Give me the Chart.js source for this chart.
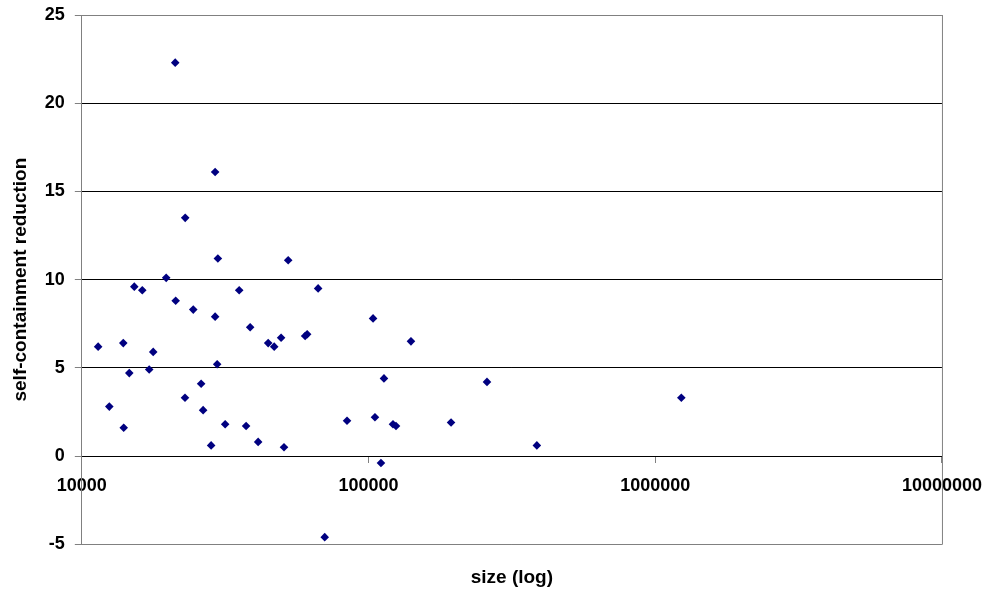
<!DOCTYPE html>
<html>
<head>
<meta charset="utf-8">
<script src="https://cdn.jsdelivr.net/npm/chart.js@4/dist/chart.umd.min.js"></script>
<style>
  html, body { margin: 0; padding: 0; background: #fff; }
</style>
</head>
<body>
<canvas id="myScatter" width="987" height="590"></canvas>
<script>
const sizes = [11400, 12470, 13950, 14000, 14640, 15240, 16250, 17180, 17740, 19690,
    21170, 21250, 22900, 22940, 24470, 26070, 26490, 28250, 29170, 29170,
    29650, 29820, 31620, 35390, 37410, 38650, 41210, 44670, 46880, 49550,
    50720, 52450, 60100, 61090, 66710, 70340, 84140, 103700, 105300, 110500,
    113200, 121700, 124700, 140600, 194000, 258900, 386400, 1233000];
const reductions = [6.2, 2.8, 6.4, 1.6, 4.7, 9.6, 9.4, 4.9, 5.9, 10.1,
    22.3, 8.8, 3.3, 13.5, 8.3, 4.1, 2.6, 0.6, 16.1, 7.9,
    5.2, 11.2, 1.8, 9.4, 1.7, 7.3, 0.8, 6.4, 6.2, 6.7,
    0.5, 11.1, 6.8, 6.9, 9.5, -4.6, 2.0, 7.8, 2.2, -0.4,
    4.4, 1.8, 1.7, 6.5, 1.9, 4.2, 0.6, 3.3];
const xTicks = [10000, 100000, 1000000, 10000000];
const yMin = -5, yMax = 25, yStep = 5;

const points = sizes.map((s, i) => ({ x: s, y: reductions[i] }));

// gray line down the right side of the plot area
const rightBorder = {
    id: "rightBorder",
    afterDraw(chart) {
        const { ctx, chartArea } = chart;
        ctx.save();
        ctx.strokeStyle = "#808080";
        ctx.lineWidth = 1;
        ctx.beginPath();
        ctx.moveTo(chartArea.right + 0.5, chartArea.top);
        ctx.lineTo(chartArea.right + 0.5, chartArea.bottom + 0.5);
        ctx.stroke();
        ctx.restore();
    }
};

const titleFont = { family: "Liberation Sans, Arial", size: 19, weight: "bold" };

new Chart("myScatter", {
    type: "scatter",
    data: {
        datasets: [{
            data: points,
            pointStyle: "rectRot",
            pointRadius: 4.3,
            pointHoverRadius: 4.3,
            borderWidth: 0,
            backgroundColor: "#000080",
            borderColor: "#000080"
        }]
    },
    plugins: [rightBorder],
    options: {
        responsive: false,
        animation: false,
        layout: { padding: { left: 5, right: 45, top: 15, bottom: 0 } },
        plugins: {
            legend: { display: false },
            tooltip: { enabled: false },
            title: {
                display: true,
                position: "bottom",
                fullSize: false,
                text: "size (log)",
                color: "#000",
                font: titleFont,
                padding: { top: 22, bottom: 1 }
            }
        },
        scales: {
            x: {
                type: "logarithmic",
                position: { y: 0 },
                min: xTicks[0],
                max: xTicks[xTicks.length - 1],
                afterBuildTicks: (axis) => { axis.ticks = xTicks.map(v => ({ value: v })); },
                grid: { drawOnChartArea: false, drawTicks: true, tickLength: 6, tickColor: "#808080" },
                border: { color: "#000", width: 1 },
                ticks: {
                    autoSkip: false,
                    maxRotation: 0,
                    padding: 5,
                    color: "#000",
                    font: { family: "Liberation Sans, Arial", size: 18, weight: "bold", lineHeight: 2.1 },
                    callback: (v) => String(v)
                }
            },
            y: {
                min: yMin,
                max: yMax,
                grid: {
                    color: (c) => (c.tick && (c.tick.value === yMin || c.tick.value === yMax)) ? "#808080" : "#000",
                    tickColor: "#808080",
                    tickLength: 7
                },
                border: { color: "#808080", width: 1 },
                ticks: {
                    stepSize: yStep,
                    padding: 10,
                    color: "#000",
                    font: { family: "Liberation Sans, Arial", size: 18, weight: "bold", lineHeight: 0.5 }
                },
                title: {
                    display: true,
                    text: "self-containment reduction",
                    color: "#000",
                    font: titleFont,
                    padding: { top: 4, bottom: 3 }
                }
            }
        }
    }
});
</script>
</body>
</html>
